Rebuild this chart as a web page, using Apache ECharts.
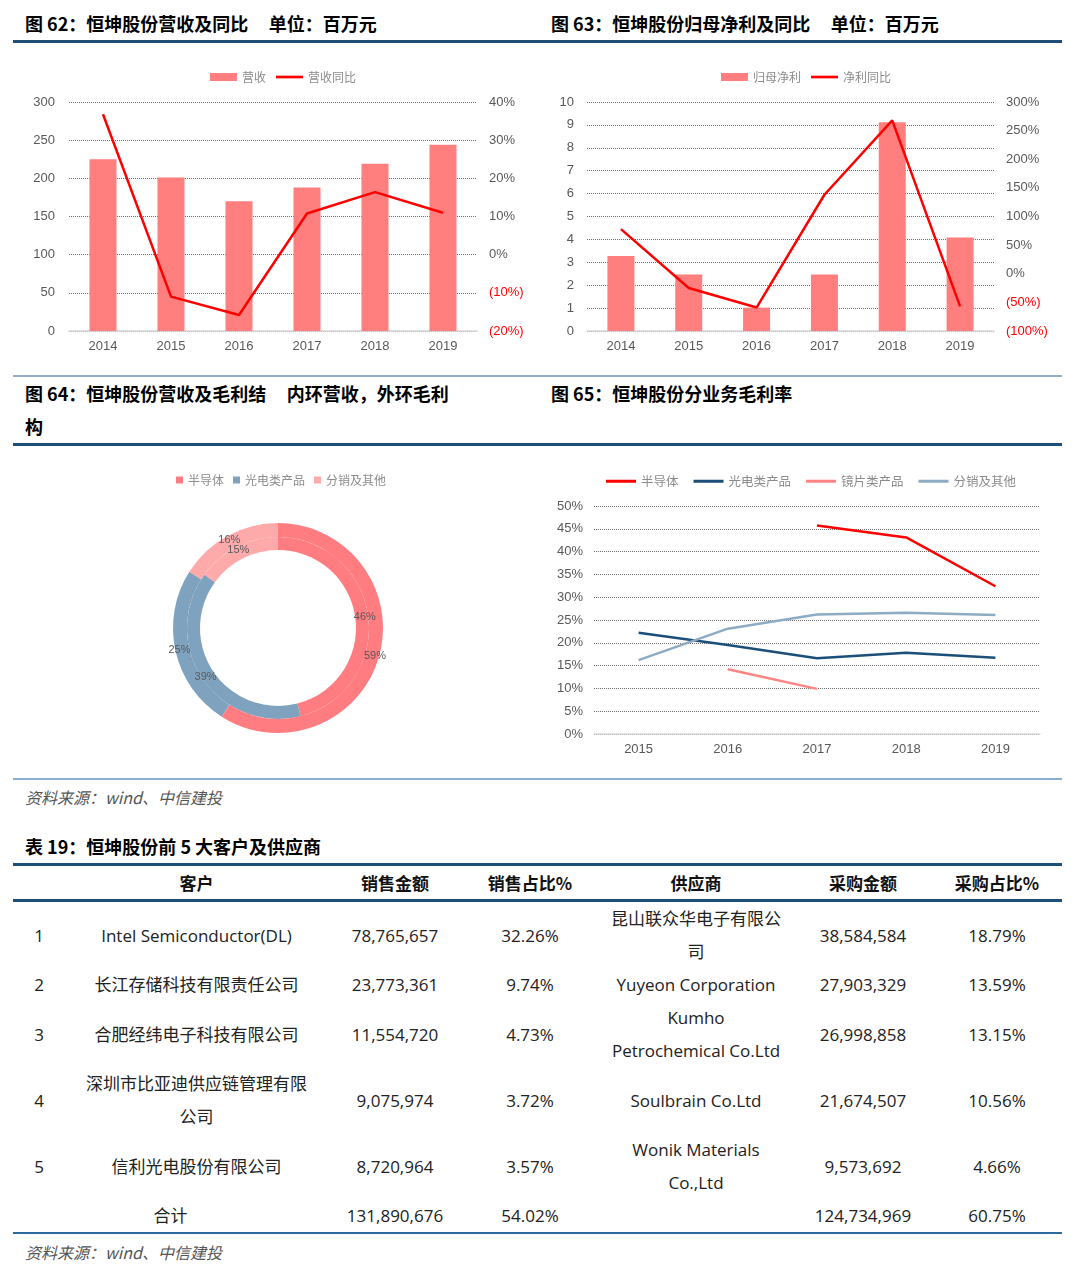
<!DOCTYPE html>
<html>
<head>
<meta charset="utf-8">
<script src="https://cdn.jsdelivr.net/npm/echarts@6/dist/echarts.min.js"></script>
<style>
  body { margin: 0; background: #fff; }
  .page { position: relative; width: 1080px; height: 1280px; font-family: "Noto Sans CJK SC", sans-serif; color: #000; }
  .title { position: absolute; font-size: 18px; font-weight: bold; line-height: 33px; white-space: nowrap; }
  .rule { position: absolute; left: 13px; width: 1049px; }
  .thick { height: 3px; background: #1f4e79; }
  .thin { height: 2px; background: #8eaed0; }
  .source { position: absolute; left: 25px; font-size: 16px; font-style: italic; color: #555; line-height: 20px; }
  .chart { position: absolute; }
  table.top5 { position: absolute; left: 13px; top: 863px; width: 1049px; border-collapse: collapse; table-layout: fixed;
    font-family: "Open Sans", "Noto Sans CJK SC", sans-serif; font-size: 17px; color: #222; }
  table.top5 th { font-family: "Noto Sans CJK SC", sans-serif; font-weight: bold; font-size: 17px; color: #111; height: 33px; padding: 0;
    border-top: 3px solid #1f4e79; border-bottom: 3px solid #1f4e79; }
  table.top5 td { text-align: center; padding: 0; line-height: 33px; }
  table.top5 tr.total td { border-bottom: 2px solid #2e6a9e; }
</style>
</head>
<body>
<div class="page">
  <div class="title" style="left:25px; top:7px;">图 62：恒坤股份营收及同比&nbsp;&nbsp;&nbsp;&nbsp;&nbsp;单位：百万元</div>
  <div class="title" style="left:551px; top:7px;">图 63：恒坤股份归母净利及同比&nbsp;&nbsp;&nbsp;&nbsp;&nbsp;单位：百万元</div>
  <div class="rule thick" style="top:40px;"></div>

  <div class="chart" id="c62" style="left:0; top:50px; width:540px; height:310px;"></div>
  <div class="chart" id="c63" style="left:540px; top:50px; width:540px; height:310px;"></div>

  <div class="rule thin" style="top:375px;"></div>
  <div class="title" style="left:25px; top:377px;">图 64：恒坤股份营收及毛利结&nbsp;&nbsp;&nbsp;&nbsp;&nbsp;内环营收，外环毛利<br>构</div>
  <div class="title" style="left:551px; top:377px;">图 65：恒坤股份分业务毛利率</div>
  <div class="rule thick" style="top:443px;"></div>

  <div class="chart" id="c64" style="left:0; top:455px; width:540px; height:320px;"></div>
  <div class="chart" id="c65" style="left:540px; top:455px; width:540px; height:320px;"></div>

  <div class="rule thin" style="top:778px;"></div>
  <div class="source" style="top:787px;">资料来源：wind、中信建投</div>

  <div class="title" style="left:25px; top:830px;">表 19：恒坤股份前 5 大客户及供应商</div>
  <table class="top5">
    <colgroup>
      <col style="width:52px"><col style="width:263px"><col style="width:134px"><col style="width:136px">
      <col style="width:196px"><col style="width:138px"><col style="width:130px">
    </colgroup>
    <thead>
      <tr><th></th><th>客户</th><th>销售金额</th><th>销售占比%</th><th>供应商</th><th>采购金额</th><th>采购占比%</th></tr>
    </thead>
    <tbody>
      <tr><td>1</td><td>Intel Semiconductor(DL)</td><td>78,765,657</td><td>32.26%</td><td>昆山联众华电子有限公<br>司</td><td>38,584,584</td><td>18.79%</td></tr>
      <tr><td>2</td><td>长江存储科技有限责任公司</td><td>23,773,361</td><td>9.74%</td><td>Yuyeon Corporation</td><td>27,903,329</td><td>13.59%</td></tr>
      <tr><td>3</td><td>合肥经纬电子科技有限公司</td><td>11,554,720</td><td>4.73%</td><td>Kumho<br>Petrochemical Co.Ltd</td><td>26,998,858</td><td>13.15%</td></tr>
      <tr><td>4</td><td>深圳市比亚迪供应链管理有限<br>公司</td><td>9,075,974</td><td>3.72%</td><td>Soulbrain Co.Ltd</td><td>21,674,507</td><td>10.56%</td></tr>
      <tr><td>5</td><td>信利光电股份有限公司</td><td>8,720,964</td><td>3.57%</td><td>Wonik Materials<br>Co.,Ltd</td><td>9,573,692</td><td>4.66%</td></tr>
      <tr class="total"><td colspan="2">合计</td><td>131,890,676</td><td>54.02%</td><td></td><td>124,734,969</td><td>60.75%</td></tr>
    </tbody>
  </table>
  <div class="source" style="top:1242px;">资料来源：wind、中信建投</div>
</div>

<script>
  // 图62 营收（百万元）及同比（%）
  const years = ['2014', '2015', '2016', '2017', '2018', '2019'];
  const revenue = [225, 201, 170, 188, 219, 244];
  const revenueYoy = [36.8, -11.0, -15.8, 10.8, 16.4, 11.0];

  // 图63 归母净利（百万元）及同比（%）
  const netProfit = [3.27, 2.47, 1.02, 2.47, 9.12, 4.08];
  const profitYoy = [78, -25, -59, 138, 268, -57];

  // 图64 内环营收，外环毛利（%）
  const segments = ['半导体', '光电类产品', '分销及其他'];
  const revenueShare = [46, 39, 15];
  const grossShare = [59, 25, 16];

  // 图65 分业务毛利率（%）
  const marginYears = ['2015', '2016', '2017', '2018', '2019'];
  const marginSemi = [null, null, 45.7, 43.1, 32.4];
  const marginOpto = [22.2, 19.5, 16.6, 17.8, 16.7];
  const marginLens = [null, 14.2, 9.9, null, null];
  const marginDist = [16.2, 23.1, 26.2, 26.6, 26.1];

  const axisFont = 'Liberation Sans';
  const axisColor = '#595959';
  const gridLine = { show: true, lineStyle: { type: 'dotted', color: '#6e6e6e', width: 1 } };
  const legendText = { color: '#8c8c8c', fontSize: 12, fontFamily: 'Noto Sans CJK SC' };
  const lineIcon = 'path://M0 0H30V3H0Z'; // 图例只画线，不带圆点

  // 负值用括号加红色
  function pctLabel(v) {
    return v < 0 ? '{neg|(' + (-v) + '%)}' : v + '%';
  }

  function barLineOption(cfg) {
    return {
      animation: false,
      textStyle: { fontFamily: axisFont },
      legend: {
        left: cfg.legendLeft, top: 16, itemWidth: 27, itemHeight: 8, itemGap: 10,
        textStyle: legendText,
        data: [{ name: cfg.barName, icon: 'rect' }, { name: cfg.lineName, icon: lineIcon }]
      },
      grid: cfg.grid,
      xAxis: {
        type: 'category', data: years,
        axisTick: { show: false },
        axisLine: { lineStyle: { color: '#d9d9d9', width: 1.5 } },
        axisLabel: { color: axisColor, fontSize: 13, margin: 9 }
      },
      yAxis: [{
        type: 'value', min: 0, max: cfg.leftMax, interval: cfg.leftInterval,
        axisLine: { show: false }, axisTick: { show: false },
        axisLabel: { color: axisColor, fontSize: 13, margin: cfg.leftMargin },
        splitLine: gridLine
      }, {
        type: 'value', min: cfg.rightMin, max: cfg.rightMax, interval: cfg.rightInterval,
        axisLine: { show: false }, axisTick: { show: false }, splitLine: { show: false },
        axisLabel: {
          color: axisColor, fontSize: 13, margin: 12, formatter: pctLabel,
          rich: { neg: { color: '#ff0000', fontSize: 13, fontFamily: axisFont } }
        }
      }],
      series: [{
        name: cfg.barName, type: 'bar', data: cfg.bars, barWidth: 27,
        itemStyle: { color: '#ff7f7f' }
      }, {
        name: cfg.lineName, type: 'line', yAxisIndex: 1, data: cfg.line,
        symbol: 'none', lineStyle: { color: '#ff0000', width: 2.5 }, itemStyle: { color: '#ff0000' }
      }]
    };
  }

  echarts.init(document.getElementById('c62')).setOption(barLineOption({
    legendLeft: 205, grid: { left: 69, right: 63, top: 52, bottom: 29 },
    barName: '营收', lineName: '营收同比', bars: revenue, line: revenueYoy,
    leftMax: 300, leftInterval: 50, leftMargin: 14,
    rightMin: -20, rightMax: 40, rightInterval: 10
  }));

  echarts.init(document.getElementById('c63')).setOption(barLineOption({
    legendLeft: 176, grid: { left: 47, right: 86, top: 52, bottom: 29 },
    barName: '归母净利', lineName: '净利同比', bars: netProfit, line: profitYoy,
    leftMax: 10, leftInterval: 1, leftMargin: 13,
    rightMin: -100, rightMax: 300, rightInterval: 50
  }));

  const ringColors = ['#ff7c80', '#7fa3bf', '#ffaaaa'];
  function ring(name, values, radius) {
    return {
      name: name, type: 'pie', radius: radius, center: [278, 173], startAngle: 90,
      silent: true, avoidLabelOverlap: false,
      labelLayout: { hideOverlap: false },
      label: { position: 'inside', formatter: '{c}%', color: '#595959', fontSize: 11, fontFamily: axisFont },
      labelLine: { show: false },
      data: segments.map((s, i) => ({ name: s, value: values[i] }))
    };
  }
  echarts.init(document.getElementById('c64')).setOption({
    animation: false,
    color: ringColors,
    legend: {
      left: 171, top: 14, icon: 'rect', itemWidth: 7, itemHeight: 7, itemGap: 9,
      textStyle: legendText, data: segments
    },
    series: [ring('营收', revenueShare, [78, 91]), ring('毛利', grossShare, [91, 105])]
  });

  function marginLine(name, data, color) {
    return {
      name: name, type: 'line', data: data, symbol: 'none', connectNulls: false,
      lineStyle: { color: color, width: 2.5 }, itemStyle: { color: color }
    };
  }
  echarts.init(document.getElementById('c65')).setOption({
    animation: false,
    textStyle: { fontFamily: axisFont },
    legend: {
      left: 61, top: 15, icon: lineIcon, itemWidth: 30, itemHeight: 8, itemGap: 15,
      textStyle: Object.assign({}, legendText, { fontSize: 12.5 })
    },
    grid: { left: 54, right: 40, top: 51, bottom: 41 },
    xAxis: {
      type: 'category', data: marginYears,
      axisTick: { show: false },
      axisLine: { lineStyle: { color: '#d9d9d9', width: 1.5 } },
      axisLabel: { color: axisColor, fontSize: 13, margin: 9 }
    },
    yAxis: {
      type: 'value', min: 0, max: 50, interval: 5,
      axisLine: { show: false }, axisTick: { show: false },
      axisLabel: { color: axisColor, fontSize: 13, margin: 11, formatter: '{value}%' },
      splitLine: gridLine
    },
    series: [
      marginLine('半导体', marginSemi, '#ff0000'),
      marginLine('光电类产品', marginOpto, '#1b4f7a'),
      marginLine('镜片类产品', marginLens, '#ff8585'),
      marginLine('分销及其他', marginDist, '#8eabc4')
    ]
  });
</script>
</body>
</html>
